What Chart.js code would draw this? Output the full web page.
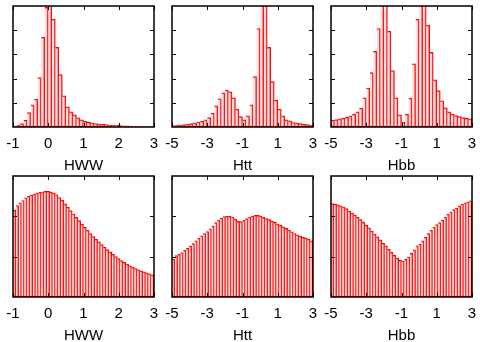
<!DOCTYPE html>
<html>
<head>
<meta charset="utf-8">
<script src="https://cdn.jsdelivr.net/npm/chart.js@4.4.0/dist/chart.umd.min.js"></script>
<style>
html, body { margin: 0; padding: 0; background: #fff; width: 480px; height: 342px; overflow: hidden; }
.panel { position: absolute; width: 160px; height: 180px; }
</style>
</head>
<body>
<canvas id="p1" class="panel" width="160" height="180" style="left:0;top:0"></canvas>
<canvas id="p2" class="panel" width="160" height="180" style="left:160px;top:0"></canvas>
<canvas id="p3" class="panel" width="160" height="180" style="left:320px;top:0"></canvas>
<canvas id="p4" class="panel" width="160" height="180" style="left:0;top:170px"></canvas>
<canvas id="p5" class="panel" width="160" height="180" style="left:160px;top:170px"></canvas>
<canvas id="p6" class="panel" width="160" height="180" style="left:320px;top:170px"></canvas>
<script>
// histogram heights (frame height = 120)
// top row: 40 bins, bottom row: 50 bins
const hwwTop = [1, 2, 3.3, 6.7, 14.3, 22, 27.7, 49, 89, 118.7,
  125, 107, 79, 52, 31, 20, 15, 12, 9, 7,
  5.5, 4.7, 4, 3.5, 3, 2.7, 2.3, 2, 1.8, 1.6,
  1.4, 1.2, 1.1, 1, 0.9, 0.8, 0.7, 0.6, 0.5, 0.5];
const httTop = [1.3, 1.7, 2, 2.3, 3, 3.3, 4, 5, 5.7, 7,
  9.3, 13.7, 21, 28, 34, 36.7, 35, 29, 17.7, 10.3,
  7, 11, 22, 50, 97.7, 125, 125, 79, 45, 26.7,
  17.7, 11, 7, 6, 4.5, 4, 3.3, 2.7, 2.3, 2];
const hbbTop = [6.7, 7.3, 8, 8.7, 9.7, 11, 12.7, 15, 18.7, 29,
  38.7, 54, 75, 97.7, 125, 125, 95, 56, 29, 12,
  5, 12.7, 28.7, 62.7, 107, 125, 125, 101, 74, 46.7,
  36, 26, 19, 15, 12.7, 11.3, 10.3, 9.3, 8.7, 8];
const hwwBottom = [86, 90.7, 93.3, 95.7, 98.3, 100, 101, 102, 103, 103.7,
  104.3, 104.7, 104.7, 104, 103, 101.3, 98.7, 96, 92.3, 89,
  85.7, 82.3, 79, 75.7, 72.3, 69, 66, 63, 60, 57.3,
  54.7, 52, 49.3, 47, 44.7, 42.3, 40, 38, 36, 34.3,
  32.7, 31, 29.7, 28.3, 27, 26, 25, 24, 23, 22];
const httBottom = [37.7, 41, 42.3, 44, 46.3, 48.3, 50.7, 53, 55.7, 58.3,
  60.7, 63, 65, 67.7, 70.3, 73.7, 76.3, 78.3, 79.7, 80,
  80, 79.3, 77.3, 75, 74.7, 76, 77.7, 79.3, 80.3, 81,
  81, 80.3, 79, 77.7, 76.7, 75.3, 74, 72.3, 71, 69.7,
  68, 66.3, 64.7, 63, 61.7, 60.3, 59.3, 58.3, 57.3, 55.7];
const hbbBottom = [92.7, 92, 91.3, 90.3, 89.3, 87.7, 85.3, 83.3, 81.3, 79,
  76.7, 74.3, 71.3, 68.7, 65.3, 62.3, 59.7, 56.7, 53.3, 50.7,
  47.3, 44.3, 41.3, 38.7, 36.3, 35.7, 37.3, 39.7, 43.3, 46.7,
  50.7, 52.3, 55.7, 59.3, 63, 66.3, 69.3, 71.7, 73.7, 76.3,
  79.3, 82, 84.3, 86.7, 88.3, 90.3, 92, 93.3, 94.3, 95.3];
const ticksHWW = [-1, 0, 1, 2, 3];
const ticksH = [-5, -3, -1, 1, 3];

const panels = [
  { id: 'p1', data: hwwTop, min: -1, max: 3, ticks: ticksHWW, title: 'HWW', yStep: 24, padL: 13, padR: 6 },
  { id: 'p2', data: httTop, min: -5, max: 3, ticks: ticksH, title: 'Htt', yStep: 24, padL: 12, padR: 7 },
  { id: 'p3', data: hbbTop, min: -5, max: 3, ticks: ticksH, title: 'Hbb', yStep: 24, padL: 11, padR: 8 },
  { id: 'p4', data: hwwBottom, min: -1, max: 3, ticks: ticksHWW, title: 'HWW', yStep: 40, padL: 13, padR: 6 },
  { id: 'p5', data: httBottom, min: -5, max: 3, ticks: ticksH, title: 'Htt', yStep: 40, padL: 12, padR: 7 },
  { id: 'p6', data: hbbBottom, min: -5, max: 3, ticks: ticksH, title: 'Hbb', yStep: 40, padL: 11, padR: 8 }
];

// gnuplot-like frame with inward ticks on all four sides
const frameTicks = {
  id: 'frameTicks',
  afterDraw(chart) {
    const ctx = chart.ctx, a = chart.chartArea;
    const xs = chart.scales.x2, ys = chart.scales.y;
    ctx.save();
    ctx.strokeStyle = '#000';
    ctx.lineWidth = 1;
    ctx.beginPath();
    xs.ticks.forEach(t => {
      const p = Math.round(xs.getPixelForValue(t.value)) + 0.5;
      ctx.moveTo(p, a.bottom); ctx.lineTo(p, a.bottom - 4);
      ctx.moveTo(p, a.top); ctx.lineTo(p, a.top + 4);
    });
    ys.ticks.forEach(t => {
      if (t.value <= ys.min || t.value >= ys.max) return;
      const p = Math.round(ys.getPixelForValue(t.value)) + 0.5;
      ctx.moveTo(a.left, p); ctx.lineTo(a.left + 4, p);
      ctx.moveTo(a.right, p); ctx.lineTo(a.right - 4, p);
    });
    ctx.stroke();
    ctx.lineWidth = 1.5;
    ctx.strokeRect(a.left, a.top, a.right - a.left, a.bottom - a.top);
    ctx.restore();
  }
};

panels.forEach(p => {
  const labels = p.data.map((v, i) => i);
  new Chart(document.getElementById(p.id), {
    type: 'bar',
    data: {
      labels: labels,
      datasets: [{
        data: p.data,
        xAxisID: 'x',
        yAxisID: 'y',
        backgroundColor: 'rgba(255,190,190,0.45)',
        borderColor: '#ff0000',
        borderWidth: 1,
        borderSkipped: 'left',
        barPercentage: 1,
        categoryPercentage: 1
      }]
    },
    options: {
      responsive: false,
      animation: false,
      events: [],
      layout: { padding: { left: p.padL, right: p.padR, top: 6, bottom: 5 } },
      plugins: { legend: { display: false }, tooltip: { enabled: false } },
      scales: {
        x: { type: 'category', display: false, offset: true },
        x2: {
          type: 'linear',
          position: 'bottom',
          offset: false,
          min: p.min,
          max: p.max,
          afterBuildTicks: s => { s.ticks = p.ticks.map(v => ({ value: v })); },
          // invisible tick marks only push the labels down
          grid: { display: true, drawOnChartArea: false, drawTicks: true, tickLength: 8, color: 'rgba(0,0,0,0)', offset: false },
          border: { display: false },
          ticks: {
            color: '#000',
            padding: 0,
            autoSkip: false,
            maxRotation: 0,
            font: { family: 'Liberation Sans', size: 15 },
            callback: v => String(v)
          },
          title: {
            display: true,
            text: p.title,
            color: '#000',
            padding: { top: 4, bottom: 0 },
            font: { family: 'Liberation Sans', size: 15 }
          }
        },
        y: { display: false, min: 0, max: 120, ticks: { stepSize: p.yStep } }
      }
    },
    plugins: [frameTicks]
  });
});
</script>
</body>
</html>
